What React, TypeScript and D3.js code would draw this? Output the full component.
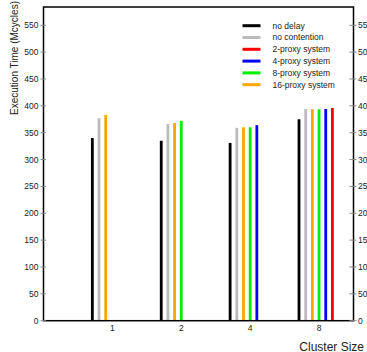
import React from "react";
import * as d3 from "d3";

const clusters = ["1", "2", "4", "8"];
const seriesNames = ["no delay", "no contention", "2-proxy system", "4-proxy system", "8-proxy system", "16-proxy system"];
const seriesColors = ["#000000", "#bbbbbb", "#ff0000", "#0000ff", "#00ee00", "#ffa500"];
// slot offsets (in cluster units) for each series within a cluster
const seriesSlots = [-3, -2, 2, 1, 0, -1];
// values per series per cluster (null = not present)
const noDelay = [340, 335, 331, 375];
const noContention = [377, 366, 359, 394];
const proxy2 = [null, null, null, 396];
const proxy4 = [null, null, 364, 394];
const proxy8 = [null, 372, 360, 393.6];
const proxy16 = [383, 368, 360, 393.6];
const seriesValues = [noDelay, noContention, proxy2, proxy4, proxy8, proxy16];
const yTicks = [0, 50, 100, 150, 200, 250, 300, 350, 400, 450, 500, 550];

const W = 367, H = 352;
const left = 43.5, right = 353.5, top = 7, bottom = 320.7;

export default function App() {
  const x = d3.scaleLinear().domain([0, 4.5]).range([left, right]);
  const y = d3.scaleLinear().domain([0, 584]).range([bottom, top]);
  const slot = 0.097;
  const font = "Liberation Sans, Arial, Helvetica, sans-serif";
  const bars: any[] = [];
  seriesValues.forEach((vals, si) => {
    vals.forEach((v, ci) => {
      if (v == null) return;
      const cx = x(ci + 1 + seriesSlots[si] * slot);
      bars.push(
        <rect key={`${si}-${ci}`} x={cx - 1.4} y={y(v)} width={2.8} height={y(0) - y(v)} fill={seriesColors[si]} />
      );
    });
  });
  return (
    <svg width={W} height={H} style={{ position: "absolute", left: 0, top: 0, background: "#fff" }} fontFamily={font}>
      {bars}
      {/* frame */}
      <rect x={left} y={top} width={right - left} height={bottom - top} fill="none" stroke="#000" strokeWidth={1.5} />
      {/* left ticks */}
      {yTicks.map((t) => (
        <g key={"l" + t}>
          <line x1={left - 3} x2={left + 2.5} y1={y(t)} y2={y(t)} stroke="#888" strokeWidth={1} />
          <text x={left - 5} y={y(t)} dy="0.35em" textAnchor="end" fontSize={8.5} fill="#222">{t}</text>
          <line x1={right - 4} x2={right + 3} y1={y(t)} y2={y(t)} stroke="#888" strokeWidth={1} />
          <text x={right + 4.5} y={y(t)} dy="0.35em" textAnchor="start" fontSize={8.5} fill="#222">{t}</text>
        </g>
      ))}
      {/* x labels */}
      {clusters.map((c, i) => (
        <text key={"x" + c} x={x(i + 1)} y={328.5} dy="0.35em" textAnchor="middle" fontSize={8.5} fill="#222">{c}</text>
      ))}
      <text x={364} y={346.5} dy="0.35em" textAnchor="end" fontSize={12} fill="#222">Cluster Size</text>
      <text transform={`translate(14,58) rotate(-90)`} textAnchor="middle" dy="0.35em" fontSize={10} fill="#222">Execution Time (Mcycles)</text>
      {/* legend */}
      {seriesNames.map((n, i) => (
        <g key={"lg" + i}>
          <line x1={242.5} x2={260.5} y1={25.7 + i * 11.8} y2={25.7 + i * 11.8} stroke={seriesColors[i]} strokeWidth={3} />
          <text x={272.5} y={25.7 + i * 11.8} dy="0.35em" fontSize={8.5} fill="#222">{n}</text>
        </g>
      ))}
    </svg>
  );
}
